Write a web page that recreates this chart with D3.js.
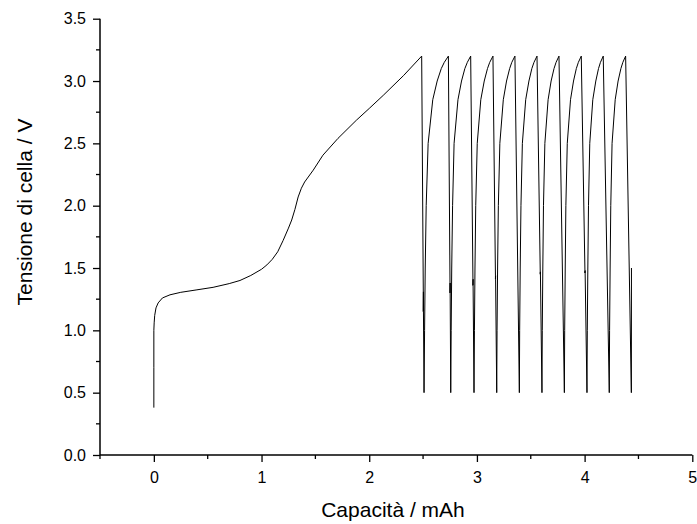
<!DOCTYPE html>
<html>
<head>
<meta charset="utf-8">
<script src="https://cdn.jsdelivr.net/npm/d3@7"></script>
<style>
  html, body { margin: 0; padding: 0; background: #fff; }
  svg { display: block; font-family: "Liberation Sans", Arial, sans-serif; }
</style>
</head>
<body>
<svg id="chart" width="697" height="524"></svg>
<script>
// ---- Data (capacity in mAh, cell voltage in V) ----
const xTicks = [0, 1, 2, 3, 4, 5];
const yTicks = [0.0, 0.5, 1.0, 1.5, 2.0, 2.5, 3.0, 3.5];

// first (formation) charge
const firstCharge = [
  [0.000, 0.38], [0.000, 0.70], [0.000, 1.00], [0.003, 1.06], [0.008, 1.12],
  [0.020, 1.18], [0.040, 1.22], [0.080, 1.26], [0.150, 1.285], [0.250, 1.305],
  [0.400, 1.325], [0.550, 1.345], [0.700, 1.375], [0.800, 1.400], [0.900, 1.440],
  [1.000, 1.490], [1.050, 1.525], [1.100, 1.570], [1.150, 1.630], [1.200, 1.720],
  [1.250, 1.820], [1.280, 1.885], [1.310, 1.970], [1.340, 2.070], [1.370, 2.140],
  [1.400, 2.190], [1.480, 2.285], [1.570, 2.405], [1.710, 2.540], [1.880, 2.685],
  [2.000, 2.780], [2.130, 2.885], [2.320, 3.045], [2.487, 3.200]
];
// discharge 1 + charge 1
const cycle1 = [
  [2.502, 1.31], [2.502, 1.15], [2.5035, 1.31], [2.5035, 1.15], [2.509, 0.50],
  [2.514, 1.00], [2.520, 1.50], [2.529, 2.00], [2.547, 2.50], [2.590, 2.85],
  [2.631, 3.00], [2.669, 3.10], [2.697, 3.15], [2.735, 3.20]
];
const cycle2 = [
  [2.750, 1.38], [2.750, 1.30], [2.7515, 1.38], [2.7515, 1.30], [2.757, 0.50],
  [2.761, 1.00], [2.766, 1.50], [2.774, 2.00], [2.788, 2.50], [2.824, 2.85],
  [2.857, 3.00], [2.888, 3.10], [2.911, 3.15], [2.942, 3.20]
];
const cycle3 = [
  [2.963, 1.41], [2.963, 1.36], [2.9645, 1.41], [2.9645, 1.36], [2.973, 0.50],
  [2.977, 1.00], [2.982, 1.50], [2.989, 2.00], [3.003, 2.50], [3.036, 2.85],
  [3.068, 3.00], [3.098, 3.10], [3.119, 3.15], [3.149, 3.20]
];
const cycle4 = [
  [3.172, 1.44], [3.172, 1.41], [3.1735, 1.44], [3.1735, 1.41], [3.184, 0.50],
  [3.187, 1.00], [3.192, 1.50], [3.199, 2.00], [3.213, 2.50], [3.245, 2.85],
  [3.275, 3.00], [3.304, 3.10], [3.324, 3.15], [3.353, 3.20]
];
const cycle5 = [
  [3.394, 0.50],
  [3.397, 1.00], [3.402, 1.50], [3.409, 2.00], [3.422, 2.50], [3.453, 2.85],
  [3.483, 3.00], [3.510, 3.10], [3.530, 3.15], [3.558, 3.20]
];
const cycle6 = [
  [3.588, 1.47], [3.588, 1.45], [3.5895, 1.47], [3.604, 0.50],
  [3.607, 1.00], [3.612, 1.50], [3.618, 2.00], [3.631, 2.50], [3.661, 2.85],
  [3.689, 3.00], [3.716, 3.10], [3.735, 3.15], [3.762, 3.20]
];
const cycle7 = [
  [3.812, 0.50],
  [3.815, 1.00], [3.820, 1.50], [3.826, 2.00], [3.839, 2.50], [3.869, 2.85],
  [3.897, 3.00], [3.923, 3.10], [3.942, 3.15], [3.969, 3.20]
];
const cycle8 = [
  [4.003, 1.48], [4.003, 1.46], [4.0045, 1.48], [4.022, 0.50],
  [4.025, 1.00], [4.030, 1.50], [4.036, 2.00], [4.048, 2.50], [4.076, 2.85],
  [4.104, 3.00], [4.129, 3.10], [4.147, 3.15], [4.173, 3.20]
];
const cycle9 = [
  [4.229, 0.50],
  [4.232, 1.00], [4.237, 1.50], [4.243, 2.00], [4.255, 2.50], [4.284, 2.85],
  [4.311, 3.00], [4.337, 3.10], [4.355, 3.15], [4.381, 3.20]
];
const lastDischarge = [
  [4.434, 0.50], [4.435, 1.50]
];

// ---- Layout ----
const svg = d3.select("#chart");
const x = d3.scaleLinear().domain([-0.5, 5]).range([100, 692.3]);
const y = d3.scaleLinear().domain([0, 3.5]).range([455, 18.7]);

const allPoints = [].concat(firstCharge, cycle1, cycle2, cycle3, cycle4, cycle5,
                            cycle6, cycle7, cycle8, cycle9, lastDischarge);

const line = d3.line().x(d => x(d[0])).y(d => y(d[1]));
svg.append("path")
  .datum(allPoints)
  .attr("d", line)
  .attr("fill", "none")
  .attr("stroke", "#000")
  .attr("stroke-width", 1)
  .attr("stroke-linejoin", "round");

// ---- Axes ----
const xMinor = d3.range(-0.5, 5.01, 0.5).filter(v => Math.abs(v - Math.round(v)) > 1e-6);
const yMinor = d3.range(0.25, 3.5, 0.5);

const xAxis = svg.append("g").attr("transform", "translate(0,455)");
xAxis.call(d3.axisBottom(x).tickValues(xTicks).tickFormat(d3.format("d")).tickSize(7).tickPadding(10))
  .call(g => g.select(".domain").attr("d", `M${x(-0.5)},0H${x(5)}`));
xAxis.selectAll(".tick line").attr("stroke-width", 1.3);
xAxis.select(".domain").attr("stroke-width", 1.5);
xAxis.selectAll(".tick text").attr("font-size", 16).attr("fill", "#000")
  .attr("font-family", "Liberation Sans, Arial, sans-serif");
xAxis.selectAll(".minor").data(xMinor).enter().append("line")
  .attr("class", "minor")
  .attr("x1", d => x(d)).attr("x2", d => x(d))
  .attr("y1", 0).attr("y2", 4)
  .attr("stroke", "#000").attr("stroke-width", 1.3);

const yAxis = svg.append("g").attr("transform", "translate(100,0)");
yAxis.call(d3.axisLeft(y).tickValues(yTicks).tickFormat(d3.format(".1f")).tickSize(7).tickPadding(7))
  .call(g => g.select(".domain").attr("d", `M0,${y(0)}V${y(3.5)}`));
yAxis.selectAll(".tick line").attr("stroke-width", 1.3);
yAxis.select(".domain").attr("stroke-width", 1.5);
yAxis.selectAll(".tick text").attr("font-size", 16).attr("fill", "#000")
  .attr("font-family", "Liberation Sans, Arial, sans-serif");
yAxis.selectAll(".minor").data(yMinor).enter().append("line")
  .attr("class", "minor")
  .attr("x1", 0).attr("x2", -4)
  .attr("y1", d => y(d)).attr("y2", d => y(d))
  .attr("stroke", "#000").attr("stroke-width", 1.3);

// ---- Titles ----
svg.append("text")
  .attr("x", 393).attr("y", 517)
  .attr("text-anchor", "middle")
  .attr("font-size", 21)
  .text("Capacità / mAh");

svg.append("text")
  .attr("transform", `translate(32,212) rotate(-90)`)
  .attr("text-anchor", "middle")
  .attr("font-size", 21)
  .text("Tensione di cella / V");
</script>
</body>
</html>
